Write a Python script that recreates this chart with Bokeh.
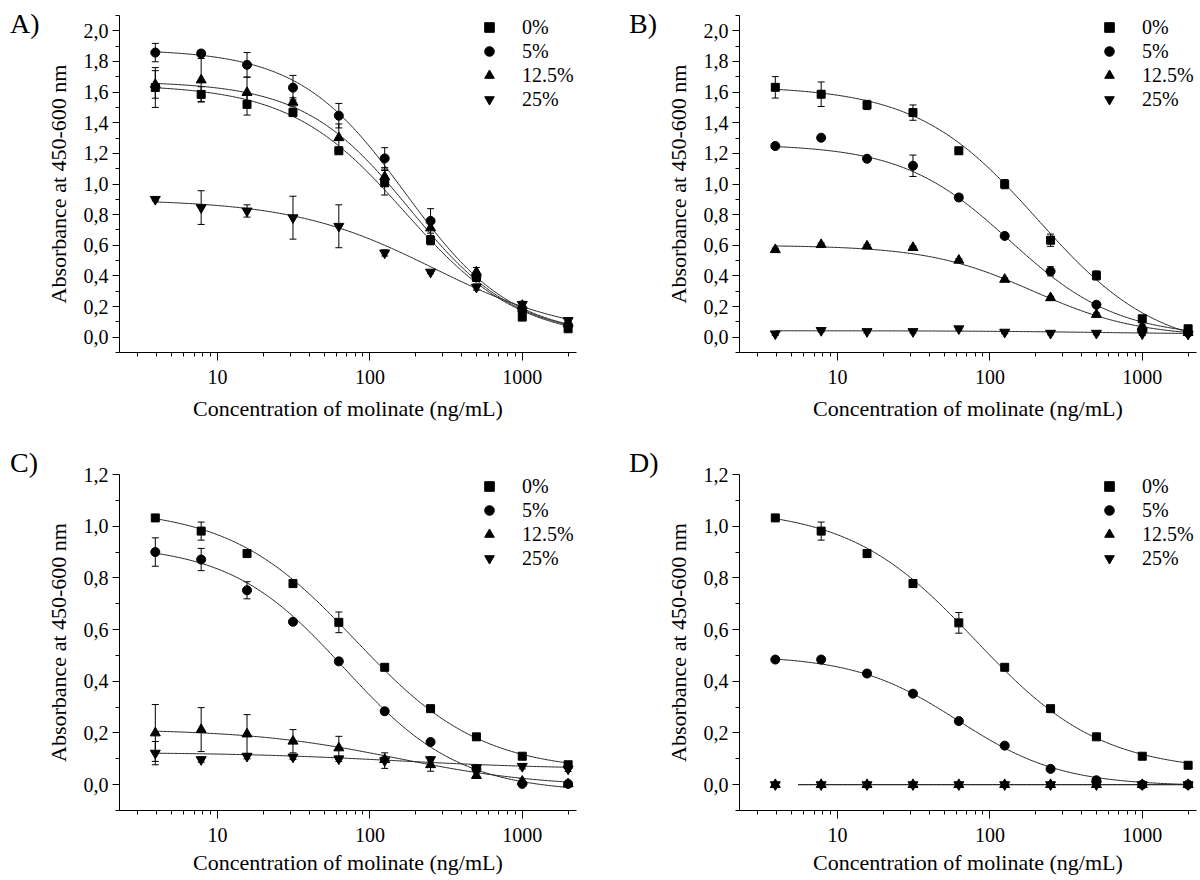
import numpy as np
from bokeh.plotting import figure
from bokeh.models import (Range1d, FixedTicker, CustomJSTickFormatter, Whisker, TeeHead,
                          ColumnDataSource, Legend, LegendItem, Div)
from bokeh.layouts import row, column
from bokeh.embed import file_html
from bokeh.resources import INLINE

# ---------------- data ----------------
conc = [3.9, 7.8, 15.6, 31.25, 62.5, 125, 250, 500, 1000, 2000]
series_labels = ["0%", "5%", "12.5%", "25%"]
series_markers = ["square", "circle", "triangle", "inverted_triangle"]
series_sizes = [8, 9, 10, 10]
panel_letters = ["A)", "B)", "C)", "D)"]

x_major_ticks = [10, 100, 1000]
x_minor_ticks = [3, 4, 5, 6, 7, 8, 9, 20, 30, 40, 50, 60, 70, 80, 90,
                 200, 300, 400, 500, 600, 700, 800, 900, 2000]
y_ticks_ab = [0.0, 0.2, 0.4, 0.6, 0.8, 1.0, 1.2, 1.4, 1.6, 1.8, 2.0]
y_minor_ab = [-0.1, 0.1, 0.3, 0.5, 0.7, 0.9, 1.1, 1.3, 1.5, 1.7, 1.9, 2.1]
y_ticks_cd = [0.0, 0.2, 0.4, 0.6, 0.8, 1.0, 1.2]
y_minor_cd = [-0.1, 0.1, 0.3, 0.5, 0.7, 0.9, 1.1]

# Panel A
a_0 = [1.63, 1.585, 1.52, 1.466, 1.217, 1.008, 0.633, 0.39, 0.131, 0.055]
a_5 = [1.858, 1.852, 1.778, 1.629, 1.446, 1.167, 0.759, 0.397, 0.175, 0.076]
a_12 = [1.65, 1.679, 1.597, 1.533, 1.302, 1.047, 0.713, 0.425, 0.207, 0.09]
a_25 = [0.90, 0.846, 0.824, 0.78, 0.724, 0.55, 0.425, 0.327, 0.214, 0.109]
a_0_err = [0.13, 0.05, 0.07, 0.02, 0.02, 0.08, 0.03, 0.02, 0.02, 0.01]
a_5_err = [0.06, 0.02, 0.08, 0.08, 0.08, 0.07, 0.08, 0.03, 0.02, 0.01]
a_12_err = [0.09, 0.14, 0.10, 0.03, 0.09, 0.06, 0.05, 0.03, 0.02, 0.01]
a_25_err = [0.01, 0.11, 0.04, 0.14, 0.14, 0.02, 0.01, 0.02, 0.02, 0.01]
# fitted curves: [top, bottom, x0, slope]
a_fit_0 = [1.65, -0.02, 170, 1.15]
a_fit_5 = [1.88, 0.0, 171, 1.24]
a_fit_12 = [1.67, 0.0, 183, 1.245]
a_fit_25 = [0.90, 0.0, 262, 0.936]
a_curve_start = [3.9, 3.9, 3.9, 3.9]

# Panel B
b_0 = [1.631, 1.586, 1.516, 1.466, 1.217, 0.999, 0.633, 0.403, 0.12, 0.055]
b_5 = [1.248, 1.302, 1.165, 1.119, 0.912, 0.661, 0.43, 0.212, 0.05, 0.03]
b_12 = [0.571, 0.604, 0.595, 0.585, 0.502, 0.377, 0.257, 0.148, 0.07, 0.03]
b_25 = [0.022, 0.044, 0.037, 0.037, 0.055, 0.033, 0.026, 0.026, 0.022, 0.02]
b_0_err = [0.07, 0.08, 0.03, 0.05, 0.02, 0.03, 0.04, 0.03, 0.02, 0.01]
b_5_err = [0.01, 0.01, 0.01, 0.07, 0.02, 0.01, 0.03, 0.01, 0.01, 0.01]
b_12_err = [0.01, 0.01, 0.01, 0.01, 0.01, 0.01, 0.01, 0.01, 0.01, 0.01]
b_25_err = [0.01, 0.01, 0.01, 0.01, 0.01, 0.01, 0.01, 0.01, 0.01, 0.01]
b_fit_0 = [1.64, -0.1, 205, 1.1]
b_fit_5 = [1.26, 0.0, 135, 1.23]
b_fit_12 = [0.60, 0.0, 193, 1.25]
b_fit_25 = [0.042, 0.02, 500, 1.0]
b_curve_start = [3.9, 3.9, 3.9, 3.9]

# Panel C
c_0 = [1.032, 0.981, 0.894, 0.778, 0.628, 0.454, 0.294, 0.185, 0.11, 0.077]
c_5 = [0.90, 0.871, 0.752, 0.63, 0.477, 0.284, 0.165, 0.061, 0.003, 0.003]
c_12 = [0.20, 0.213, 0.196, 0.168, 0.142, 0.097, 0.077, 0.035, 0.013, 0.003]
c_25 = [0.122, 0.097, 0.11, 0.107, 0.10, 0.093, 0.097, 0.065, 0.071, 0.061]
c_0_err = [0.01, 0.035, 0.01, 0.01, 0.04, 0.01, 0.01, 0.01, 0.01, 0.01]
c_5_err = [0.055, 0.043, 0.033, 0.01, 0.01, 0.01, 0.01, 0.01, 0.005, 0.005]
c_12_err = [0.11, 0.085, 0.075, 0.045, 0.045, 0.01, 0.025, 0.01, 0.01, 0.005]
c_25_err = [0.045, 0.01, 0.01, 0.01, 0.01, 0.03, 0.01, 0.01, 0.01, 0.01]
c_fit_0 = [1.07, 0.05, 80, 1.05]
c_fit_5 = [0.93, -0.03, 68, 1.15]
c_fit_12 = [0.215, -0.01, 150, 0.9]
c_fit_25 = [0.125, 0.06, 150, 0.8]
c_curve_start = [3.9, 3.9, 3.9, 3.9]

# Panel D
d_0 = [1.032, 0.981, 0.894, 0.778, 0.626, 0.454, 0.294, 0.185, 0.11, 0.075]
d_5 = [0.484, 0.484, 0.43, 0.352, 0.246, 0.151, 0.061, 0.017, 0.0, 0.0]
d_12 = [0.0, 0.0, 0.0, 0.0, 0.0, 0.0, 0.0, 0.0, 0.0, 0.0]
d_25 = [0.0, 0.0, 0.0, 0.0, 0.0, 0.0, 0.0, 0.0, 0.0, 0.0]
d_0_err = [0.01, 0.035, 0.01, 0.01, 0.04, 0.01, 0.01, 0.01, 0.01, 0.01]
d_5_err = [0.01, 0.01, 0.01, 0.01, 0.01, 0.01, 0.01, 0.01, 0.0, 0.0]
d_12_err = [0.0, 0.0, 0.0, 0.0, 0.0, 0.0, 0.0, 0.0, 0.0, 0.0]
d_25_err = [0.0, 0.0, 0.0, 0.0, 0.0, 0.0, 0.0, 0.0, 0.0, 0.0]
d_fit_0 = [1.07, 0.05, 80, 1.05]
d_fit_5 = [0.50, -0.005, 62, 1.28]
d_fit_12 = [0.0, 0.0, 100, 1.0]
d_fit_25 = [0.0, 0.0, 100, 1.0]
d_curve_start = [3.9, 3.9, 5.5, 5.5]

x_title = "Concentration of molinate (ng/mL)"
y_title = "Absorbance at 450-600 nm"

FONT = "Liberation Serif"
CURVE_END = 2000


def logistic(params, xs):
    top, bottom, xc, slope = params
    return bottom + (top - bottom) / (1.0 + (xs / xc) ** slope)


def letter_div(text, width, height, pad_left, pad_top):
    html = ('<div style="padding-left:%dpx; padding-top:%dpx; font-family:\'Liberation Serif\', serif; '
            'font-size:28px; line-height:28px; color:black; white-space:nowrap;">%s</div>'
            % (pad_left, pad_top, text))
    return Div(text=html, width=width, height=height, margin=0)


def make_panel(ys, errs, fits, starts, ymax, yt, ym,
               left, right, top, bottom, frame_h, xstand):
    p = figure(x_axis_type="log", x_range=Range1d(2.27, 2270), y_range=Range1d(-0.1, ymax),
               frame_width=457, frame_height=frame_h,
               min_border_left=left, min_border_right=right,
               min_border_top=top, min_border_bottom=bottom,
               output_backend="svg", toolbar_location=None)
    p.outline_line_color = None
    p.xgrid.visible = False
    p.ygrid.visible = False
    p.background_fill_color = "white"

    p.xaxis.ticker = FixedTicker(ticks=x_major_ticks, minor_ticks=x_minor_ticks)
    p.xaxis.formatter = CustomJSTickFormatter(code="return tick.toFixed(0);")
    p.yaxis.ticker = FixedTicker(ticks=yt, minor_ticks=ym)
    p.yaxis.formatter = CustomJSTickFormatter(code="return tick.toFixed(1).replace('.', ',');")

    for ax in (p.xaxis, p.yaxis):
        ax.axis_line_color = "black"
        ax.axis_line_width = 1
        ax.major_tick_line_color = "black"
        ax.minor_tick_line_color = "black"
        ax.major_tick_in = 0
        ax.minor_tick_in = 0
        ax.minor_tick_out = 4
        ax.major_label_text_font = FONT
        ax.major_label_text_font_size = "20px"
        ax.major_label_text_color = "black"
        ax.axis_label_text_font = FONT
        ax.axis_label_text_font_size = "22px"
        ax.axis_label_text_font_style = "normal"
        ax.axis_label_text_color = "black"
    p.xaxis.major_tick_out = 8
    p.yaxis.major_tick_out = 7
    p.xaxis.major_label_standoff = 9
    p.yaxis.major_label_standoff = 4
    p.xaxis.axis_label_standoff = xstand
    p.yaxis.axis_label_standoff = 10
    p.xaxis.axis_label = x_title
    p.yaxis.axis_label = y_title

    items = []
    for i in range(4):
        xs = np.logspace(np.log10(starts[i]), np.log10(CURVE_END), 300)
        p.line(xs, logistic(fits[i], xs), line_color="#222222", line_width=1)
    for i in range(4):
        y = np.array(ys[i])
        e = np.array(errs[i])
        src = ColumnDataSource(dict(x=conc, upper=y + e, lower=y - e))
        w = Whisker(source=src, base="x", upper="upper", lower="lower", dimension="height",
                    line_color="black", line_width=1,
                    upper_head=TeeHead(size=7, line_color="black", line_width=1),
                    lower_head=TeeHead(size=7, line_color="black", line_width=1))
        p.add_layout(w)
    for i in range(4):
        r = p.scatter(conc, ys[i], marker=series_markers[i], size=series_sizes[i],
                      fill_color="black", line_color="black")
        items.append(LegendItem(label=series_labels[i], renderers=[r]))

    leg_h = 4 * 24
    leg = Legend(items=items, location=(357, frame_h - leg_h), orientation="vertical",
                 label_text_font=FONT, label_text_font_size="20px", label_text_color="black",
                 label_height=24, glyph_height=24, glyph_width=26,
                 label_standoff=20, spacing=0, padding=0, margin=0,
                 border_line_color=None, background_fill_alpha=0)
    p.add_layout(leg)
    return p


pa = make_panel([a_0, a_5, a_12, a_25], [a_0_err, a_5_err, a_12_err, a_25_err],
                [a_fit_0, a_fit_5, a_fit_12, a_fit_25], a_curve_start, 2.1, y_ticks_ab, y_minor_ab,
                75, 26, 15, 87, 337, 9)
pb = make_panel([b_0, b_5, b_12, b_25], [b_0_err, b_5_err, b_12_err, b_25_err],
                [b_fit_0, b_fit_5, b_fit_12, b_fit_25], b_curve_start, 2.1, y_ticks_ab, y_minor_ab,
                75, 7, 15, 87, 337, 9)
pc = make_panel([c_0, c_5, c_12, c_25], [c_0_err, c_5_err, c_12_err, c_25_err],
                [c_fit_0, c_fit_5, c_fit_12, c_fit_25], c_curve_start, 1.2, y_ticks_cd, y_minor_cd,
                75, 26, 35, 69, 336, 5)
pd = make_panel([d_0, d_5, d_12, d_25], [d_0_err, d_5_err, d_12_err, d_25_err],
                [d_fit_0, d_fit_5, d_fit_12, d_fit_25], d_curve_start, 1.2, y_ticks_cd, y_minor_cd,
                75, 7, 35, 69, 336, 5)

div_a = letter_div(panel_letters[0], 42, 439, 10, 10)
div_b = letter_div(panel_letters[1], 60, 439, 27, 10)
div_c = letter_div(panel_letters[2], 42, 440, 10, 10)
div_d = letter_div(panel_letters[3], 60, 440, 27, 10)

layout = column(row(div_a, pa, div_b, pb), row(div_c, pc, div_d, pd))

with open("out.html", "w") as f:
    f.write(file_html(layout, INLINE))
